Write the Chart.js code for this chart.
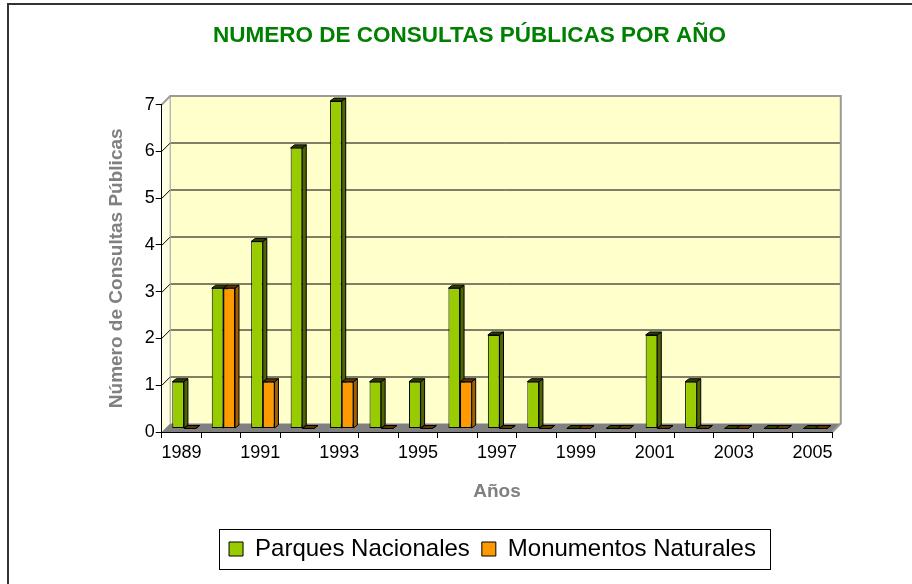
<!DOCTYPE html>
<html lang="es">
<head>
<meta charset="utf-8">
<title>Numero de consultas públicas por año</title>
<script src="https://cdn.jsdelivr.net/npm/chart.js@4.4.1/dist/chart.umd.min.js"></script>
<style>
    html, body { margin: 0; padding: 0; background: #ffffff; overflow: hidden; }
    #contenedor { position: relative; width: 912px; height: 584px; }
</style>
</head>
<body>

<div id="contenedor">
    <canvas id="graficaConsultas"></canvas>
</div>

<script>
// Datos
const anios = ["1989", "1990", "1991", "1992", "1993", "1994", "1995", "1996", "1997",
               "1998", "1999", "2000", "2001", "2002", "2003", "2004", "2005"];

const parquesNacionales =   [1, 3, 4, 6, 7, 1, 1, 3, 2, 1, 0, 0, 2, 1, 0, 0, 0];

const monumentosNaturales = [0, 3, 1, 0, 1, 0, 0, 1, 0, 0, 0, 0, 0, 0, 0, 0, 0];

// Etiquetas visibles en los ejes
const etiquetasAnios = ["1989", "1991", "1993", "1995", "1997", "1999", "2001", "2003", "2005"];

const valoresEjeY = [0, 1, 2, 3, 4, 5, 6, 7];

// Estilo del efecto 3D
const fondo = { dx: 8.5, dy: -8.5 };
const barra = { dx: 2.5, dy: -3.5, prof: 4, alto: 3 };

const colores = [
    { frente: "#99CC00", lado: "#4D6600", arriba: "#2E3D00" },
    { frente: "#FF9900", lado: "#A35F00", arriba: "#5C3600" }
];

Chart.defaults.font.family = "'Liberation Sans', Arial, sans-serif";
Chart.defaults.color = "#000000";

// Dibuja un polígono relleno y con borde
function poligono(ctx, puntos, relleno, trazo) {

    ctx.beginPath();
    ctx.moveTo(puntos[0][0], puntos[0][1]);

    puntos.slice(1).forEach(p => ctx.lineTo(p[0], p[1]));

    ctx.closePath();

    if (relleno) {
        ctx.fillStyle = relleno;
        ctx.fill();
    }

    if (trazo) {
        ctx.strokeStyle = trazo;
        ctx.lineWidth = 1;
        ctx.stroke();
    }

}

// Mueve una caja (título o leyenda) para centrarla en x
function centrar(caja, x) {

    if (!caja) return;

    const d = x - (caja.left + caja.right) / 2;

    caja.left += d;
    caja.right += d;

}

// Paredes, suelo y caras laterales de las barras
const efecto3D = {

    id: "efecto3D",

    afterLayout(chart) {

        centrar(chart.titleBlock, 469.5);
        centrar(chart.legend, 492.5);

    },

    beforeDraw(chart) {

        const ctx = chart.ctx;
        const area = chart.chartArea;
        const escalaY = chart.scales.y;

        const L = area.left, R = area.right, T = area.top, B = area.bottom;
        const dx = fondo.dx, dy = fondo.dy;

        ctx.save();

        // Marco exterior
        ctx.strokeStyle = "#333333";
        ctx.lineWidth = 2;
        ctx.beginPath();
        ctx.moveTo(8, chart.height);
        ctx.lineTo(8, 4);
        ctx.lineTo(chart.width, 4);
        ctx.stroke();

        // Pared lateral
        poligono(ctx, [[L, T], [L + dx, T + dy], [L + dx, B + dy], [L, B]], "#FFFFE3");

        // Pared del fondo
        ctx.fillStyle = "#FFFFCC";
        ctx.fillRect(L + dx, T + dy, R - L, B - T);

        // Suelo
        poligono(ctx, [[L, B], [R, B], [R + dx, B + dy], [L + dx, B + dy]], "#808080");

        // Líneas de división
        ctx.strokeStyle = "#000000";
        ctx.lineWidth = 1;

        valoresEjeY.forEach(v => {

            if (v === escalaY.min || v === escalaY.max) return;

            const y = Math.round(escalaY.getPixelForValue(v)) + 0.5;

            ctx.beginPath();
            ctx.moveTo(L, y);
            ctx.lineTo(L + dx, y + dy);
            ctx.lineTo(R + dx, y + dy);
            ctx.stroke();

        });

        // Bordes grises
        ctx.strokeStyle = "#9A9A9A";
        ctx.lineWidth = 2;
        ctx.beginPath();
        ctx.moveTo(L, T);
        ctx.lineTo(L + dx, T + dy);
        ctx.lineTo(R + dx, T + dy);
        ctx.lineTo(R + dx, B + dy);
        ctx.lineTo(R, B);
        ctx.stroke();

        ctx.lineWidth = 1;
        ctx.beginPath();
        ctx.moveTo(L + dx, T + dy);
        ctx.lineTo(L + dx, B + dy);
        ctx.stroke();

        ctx.restore();

    },

    // Caras laterales y superiores antes de los frentes,
    // así el frente de la barra vecina las tapa
    beforeDatasetsDraw(chart) {

        const ctx = chart.ctx;

        ctx.save();
        ctx.translate(barra.dx, barra.dy);

        chart.data.datasets.forEach((ds, i) => {

            const color = colores[i];

            chart.getDatasetMeta(i).data.forEach(el => {

                const p = el.getProps(["x", "y", "base", "width"], true);

                const izq = p.x - p.width / 2;
                const der = p.x + p.width / 2;
                const arriba = Math.min(p.y, p.base);
                const abajo = Math.max(p.y, p.base);

                // Cara lateral
                poligono(ctx, [
                    [der, arriba], [der + barra.prof, arriba - barra.alto],
                    [der + barra.prof, abajo - barra.alto], [der, abajo]
                ], color.lado, "#000000");

                // Cara superior
                poligono(ctx, [
                    [izq, arriba], [izq + barra.prof, arriba - barra.alto],
                    [der + barra.prof, arriba - barra.alto], [der, arriba]
                ], color.arriba, "#000000");

            });

        });

    },

    afterDatasetsDraw(chart) {

        chart.ctx.restore();

    },

    afterDraw(chart) {

        // Recuadro de la leyenda
        const cajas = chart.legend.legendHitBoxes;

        if (!cajas || !cajas.length) return;

        const a = cajas[0];
        const b = cajas[cajas.length - 1];

        const ctx = chart.ctx;

        ctx.save();
        ctx.strokeStyle = "#000000";
        ctx.lineWidth = 1;
        ctx.strokeRect(
            Math.round(a.left - 10) + 0.5,
            Math.round(a.top - 8) + 0.5,
            Math.round(b.left + b.width + 14 - (a.left - 10)),
            Math.round(a.height + 16)
        );
        ctx.restore();

    }

};

// Crear gráfica
const ctx = document.getElementById("graficaConsultas");

new Chart(ctx, {

    type: "bar",

    data: {

        labels: anios,

        datasets: [

            {
                label: "Parques Nacionales",
                data: parquesNacionales,
                backgroundColor: colores[0].frente
            },

            {
                label: "Monumentos Naturales",
                data: monumentosNaturales,
                backgroundColor: colores[1].frente
            }

        ]

    },

    options: {

        responsive: true,
        maintainAspectRatio: false,
        animation: false,

        layout: {
            padding: { left: 100, right: 79.7, top: 0, bottom: 13 }
        },

        datasets: {
            bar: {
                categoryPercentage: 0.59,
                barPercentage: 1,
                borderWidth: 1,
                borderColor: "#000000",
                borderSkipped: false,
                clip: false
            }
        },

        plugins: {

            title: {
                display: true,
                text: "NUMERO DE CONSULTAS PÚBLICAS POR AÑO",
                color: "#008000",
                font: { size: 22.5, weight: "bold" },
                padding: { top: 22.4, bottom: 55.2 }
            },

            legend: {
                position: "bottom",
                labels: {
                    boxWidth: 14,
                    boxHeight: 14,
                    padding: 12,
                    color: "#000000",
                    font: { size: 24 }
                }
            },

            tooltip: { enabled: false }

        },

        scales: {

            x: {
                grid: {
                    display: true,
                    drawOnChartArea: false,
                    drawTicks: true,
                    tickLength: 6,
                    color: "#000000"
                },
                border: { display: true, color: "#000000" },
                ticks: {
                    autoSkip: false,
                    maxRotation: 0,
                    padding: 4,
                    font: { size: 18 },
                    callback: function (valor) {
                        const etiqueta = this.getLabelForValue(valor);
                        return etiquetasAnios.includes(etiqueta) ? etiqueta : "";
                    }
                },
                title: {
                    display: true,
                    text: "Años",
                    color: "#808080",
                    font: { size: 19, weight: "bold" },
                    padding: { top: 0, bottom: 21.6 }
                },
                afterFit: escala => { escala.height = 93; }
            },

            y: {
                min: Math.min(...valoresEjeY),
                max: Math.max(...valoresEjeY),
                grid: {
                    display: true,
                    drawOnChartArea: false,
                    drawTicks: true,
                    tickLength: 6,
                    color: "#000000"
                },
                border: { display: true, color: "#000000" },
                ticks: {
                    stepSize: 1,
                    padding: 1,
                    font: { size: 18 }
                },
                title: {
                    display: true,
                    text: "Número de Consultas Públicas",
                    color: "#808080",
                    font: { size: 19, weight: "bold" },
                    padding: { top: 5, bottom: 0 }
                },
                afterFit: escala => { escala.width = 61.7; }
            }

        }

    },

    plugins: [efecto3D]

});
</script>

</body>
</html>
